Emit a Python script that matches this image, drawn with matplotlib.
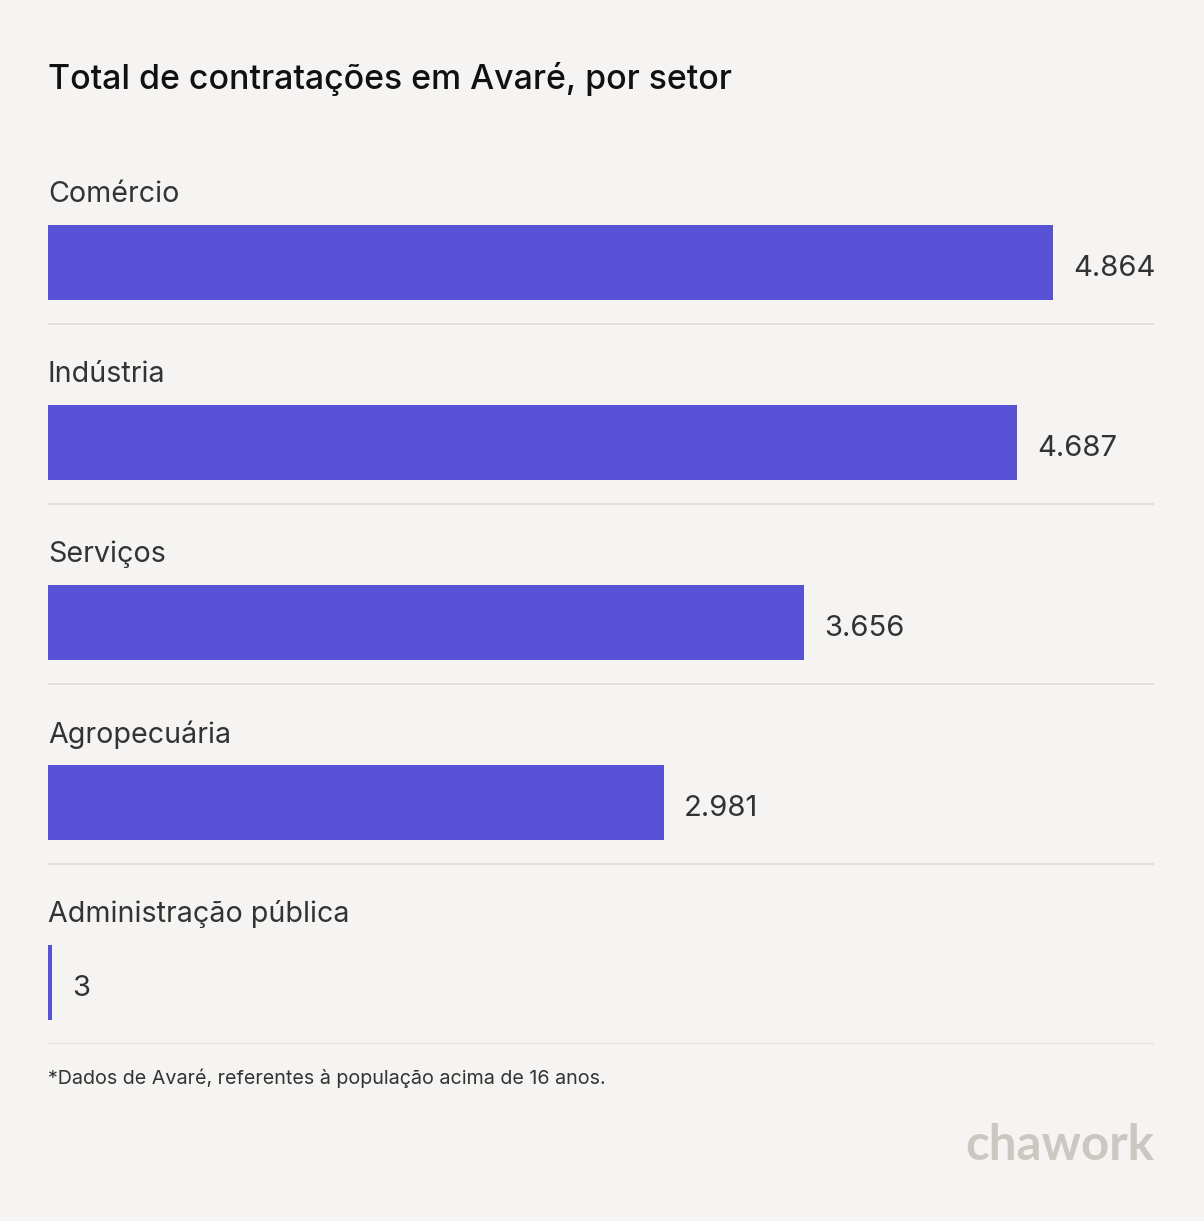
import matplotlib
matplotlib.use('Agg')
import matplotlib.pyplot as plt
import numpy as np

# data
sectors = ['Comércio', 'Indústria', 'Serviços', 'Agropecuária', 'Administração pública']
values = [4864, 4687, 3656, 2981, 3]
value_labels = ['4.864', '4.687', '3.656', '2.981', '3']

title = 'Total de contratações em Avaré, por setor'
footnote = '*Dados de Avaré, referentes à população acima de 16 anos.'

bg = '#F5F4F2'
bar_color = '#5852D6'
text_color = '#333333'
line_color = '#DEDCD9'

plt.rcParams['font.family'] = ['Inter', 'DejaVu Sans']

W, H = 1204, 1221
fig = plt.figure(figsize=(W / 100, H / 100), dpi=100, facecolor=bg)

# axes in pixel terms: left 48, width 1106, top 144, bottom 1044
ax = fig.add_axes([48 / W, (H - 1044) / H, 1106 / W, 900 / H])
ax.set_facecolor(bg)
xmax = max(values) * 1.1
ax.set_xlim(0, xmax)
ax.set_ylim(len(sectors), 0)
ax.axis('off')

min_w = xmax * 4 / 1106  # keep tiny bars visible (~4 px)
y = np.arange(len(sectors))
bar_c = y + 0.658
widths = [max(v, min_w) for v in values]
ax.barh(bar_c, widths, height=0.417, color=bar_color, left=0)

for i, (s, w, lab) in enumerate(zip(sectors, widths, value_labels)):
    ax.text(0, i + 0.28, s, fontsize=20.6, color=text_color, va='center', ha='left')
    ax.annotate(lab, (w, bar_c[i]), xytext=(20 * 0.72, -6 * 0.72), textcoords='offset points',
                fontsize=21, color=text_color, va='center', ha='left')
    ax.plot([0, xmax], [i + 1, i + 1], color=line_color, lw=1.2, solid_capstyle='butt')

fig.text(48 / W, 1 - 79 / H, title, fontsize=24.4, fontweight='medium', color='#111111',
         va='center', ha='left')
fig.text(48 / W, 1 - 1078 / H, footnote, fontsize=14.2, color=text_color, va='center', ha='left')
fig.text(1154 / W, 1 - 1146 / H, 'chawork', fontsize=35.5, fontweight='bold', color='#CBC8C2',
         va='center', ha='right', family=['Lato', 'DejaVu Sans'])

fig.savefig('out.png', dpi=100, facecolor=bg)
